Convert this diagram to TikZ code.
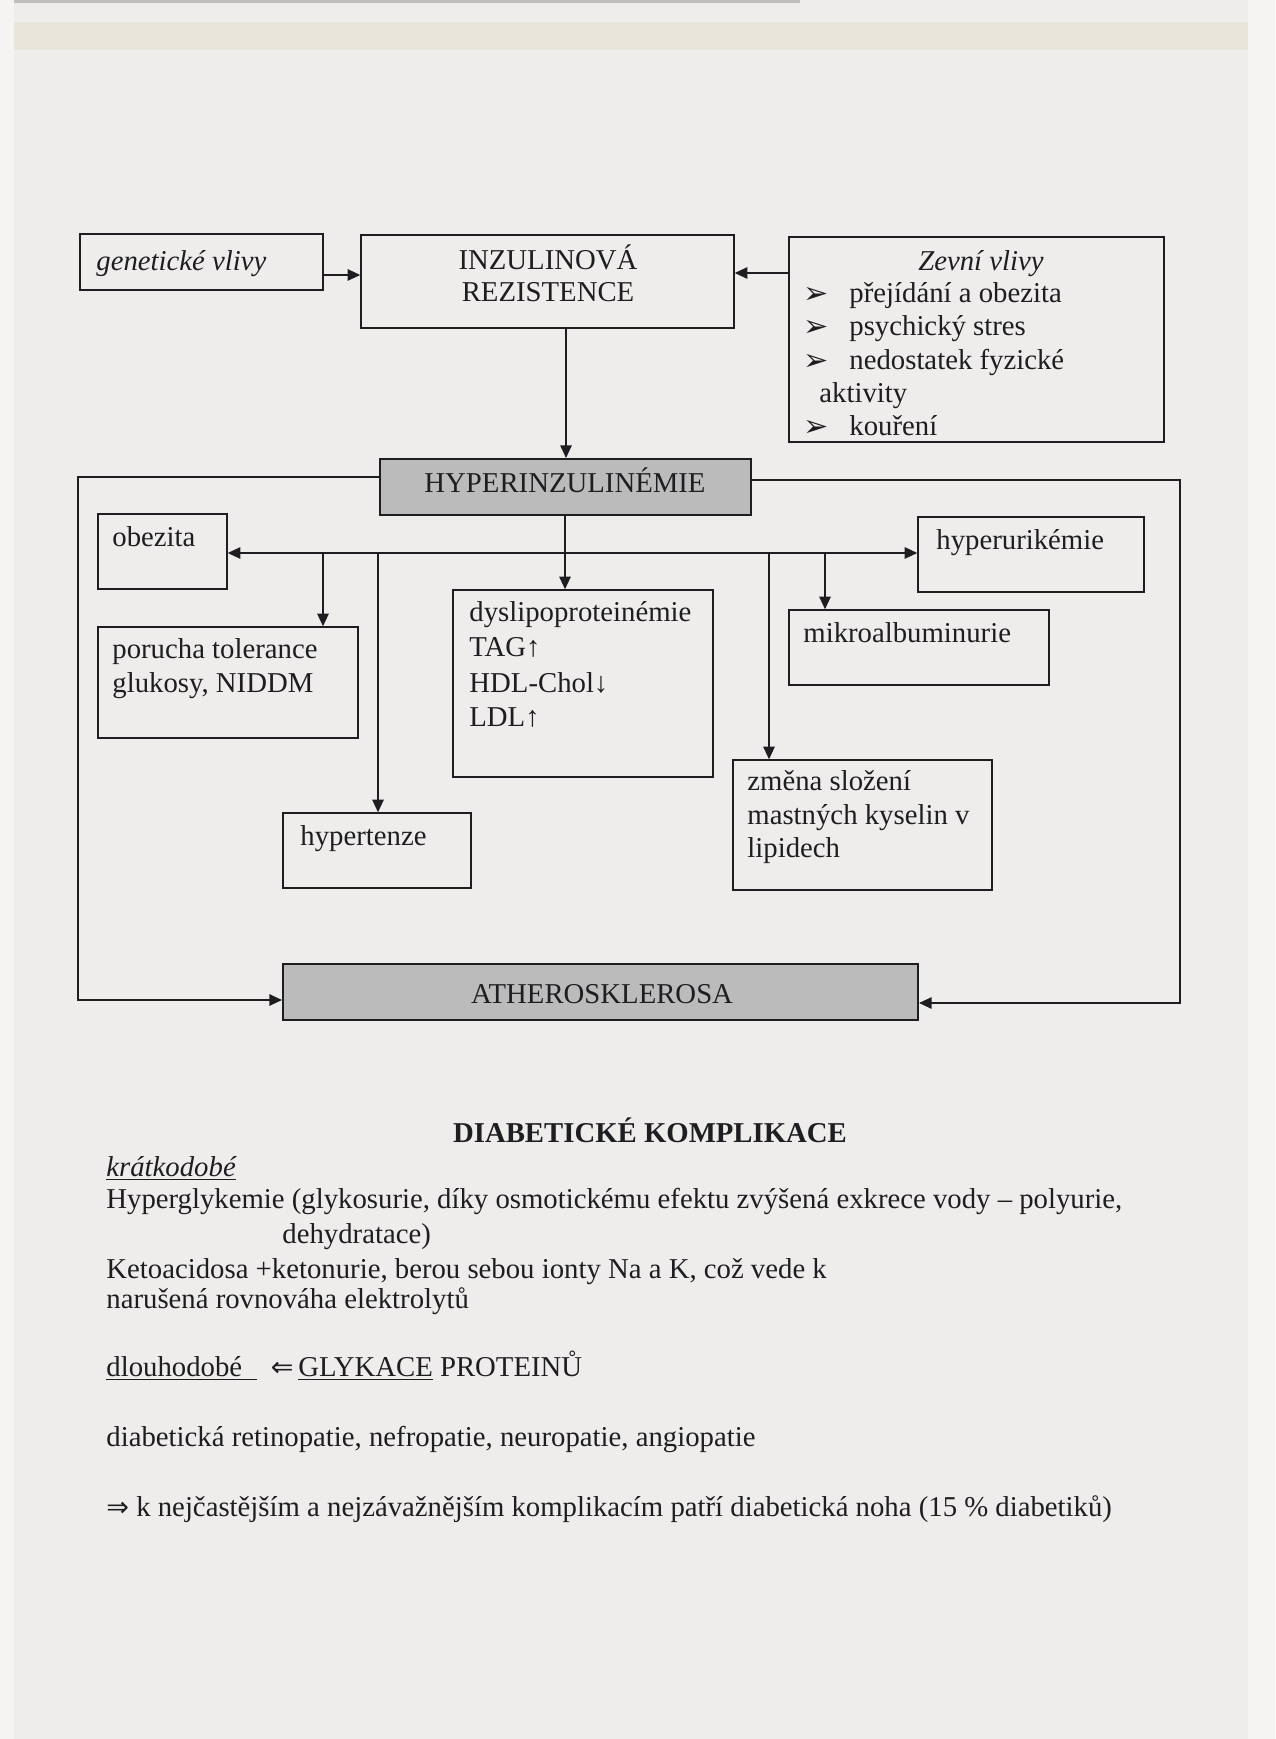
\documentclass[tikz,border=0pt]{standalone}
\usepackage{fontspec}
\setmainfont{Liberation Serif}
\newfontfamily\symf{DejaVu Sans}
\usetikzlibrary{arrows.meta,fit}
\definecolor{paper}{RGB}{239,237,235}
\definecolor{paperedge}{RGB}{245,244,243}
\definecolor{band}{RGB}{234,229,219}
\definecolor{ink}{RGB}{30,30,34}
\definecolor{boxgray}{RGB}{187,187,187}
\begin{document}
\begin{tikzpicture}[x=0.48pt,y=-0.48pt,
  box/.style={draw=ink,line width=0.75pt,inner sep=0pt},
  graybox/.style={draw=ink,line width=1pt,fill=boxgray,inner sep=0pt},
  txt/.style={anchor=base west,inner sep=0pt,text=ink,font=\fontsize{13.8}{16}\selectfont},
  ctxt/.style={anchor=base,inner sep=0pt,text=ink,font=\fontsize{13.8}{16}\selectfont},
  bul/.style={anchor=base west,inner sep=0pt,text=ink,font=\fontsize{14.5}{16}\selectfont\symf},
  conn/.style={draw=ink,line width=0.55pt},
  arr/.style={conn,-{Triangle[length=6pt,width=5.5pt]}},
  darr/.style={conn,{Triangle[length=6pt,width=5.5pt]}-{Triangle[length=6pt,width=5.5pt]}}
]
% page background
\fill[paperedge] (0,0) rectangle (1275,1739);
\fill[paper] (14,0) rectangle (1248,1739);
\fill[band] (14,22) rectangle (1248,50);
\fill[gray!50] (14,0) rectangle (800,3);
\useasboundingbox (0,0) rectangle (1275,1739);

% boxes
\node[box,fit={(80,234) (323,290)}] (gen) {};
\node[box,fit={(361,235) (734,328)}] (inz) {};
\node[box,fit={(789,237) (1164,442)}] (zev) {};
\node[graybox,fit={(380,459) (751,515)}] (hyp) {};
\node[box,fit={(98,514) (227,589)}] (obe) {};
\node[box,fit={(918,517) (1144,592)}] (hur) {};
\node[box,fit={(98,627) (358,738)}] (por) {};
\node[box,fit={(453,590) (713,777)}] (dys) {};
\node[box,fit={(789,610) (1049,685)}] (mik) {};
\node[box,fit={(283,813) (471,888)}] (hyt) {};
\node[box,fit={(733,760) (992,890)}] (zme) {};
\node[graybox,fit={(283,964) (918,1020)}] (ath) {};

% texts in boxes
\node[txt,font=\fontsize{13.8}{16}\selectfont\itshape] (tgen) at (96,271) {genetické vlivy};
\node[ctxt] (tinz1) at (548,270) {INZULINOVÁ};
\node[ctxt] (tinz2) at (548,302) {REZISTENCE};
\node[ctxt,font=\fontsize{13.8}{16}\selectfont\itshape] (tzev) at (981,271) {Zevní vlivy};
\node[bul] (bz1) at (803,304) {➢};
\node[bul] (bz2) at (803,337) {➢};
\node[bul] (bz3) at (803,371) {➢};
\node[bul] (bz4) at (803,437) {➢};
\node[txt] (tz1) at (849,303) {přejídání a obezita};
\node[txt] (tz2) at (849,336) {psychický stres};
\node[txt] (tz3) at (849,370) {nedostatek fyzické};
\node[txt] (tz3b) at (819,403) {aktivity};
\node[txt] (tz4) at (849,436) {kouření};
\node[ctxt] (thyp) at (565,492) {HYPERINZULINÉMIE};
\node[txt] (tobe) at (112,546) {obezita};
\node[txt] (thur) at (936,549) {hyperurikémie};
\node[txt] (tpor1) at (112,658) {porucha tolerance};
\node[txt] (tpor2) at (112,692) {glukosy, NIDDM};
\node[txt] (tdys1) at (469,621) {dyslipoproteinémie};
\node[txt] (tdys2) at (469,656) {TAG↑};
\node[txt] (tdys3) at (469,692) {HDL-Chol↓};
\node[txt] (tdys4) at (469,726) {LDL↑};
\node[txt] (tmik) at (803,642) {mikroalbuminurie};
\node[txt] (thyt) at (300,845) {hypertenze};
\node[txt] (tzme1) at (747,790) {změna složení};
\node[txt] (tzme2) at (747,824) {mastných kyselin v};
\node[txt] (tzme3) at (747,857) {lipidech};
\node[ctxt] (tath) at (602,1003) {ATHEROSKLEROSA};

% connectors top
\draw[arr] (gen.east |- 0,275) -- (inz.west |- 0,275);
\draw[arr] (zev.west |- 0,273) -- (inz.east |- 0,273);
\coordinate (inzdown) at (566,328);
\draw[arr] (inzdown) -- (inzdown |- hyp.north);

% hub line
\coordinate (hub) at (565,553);
\draw[darr] (obe.east |- hub) -- (hur.west |- hub);
\draw[arr] (hyp.south -| hub) -- (hub |- dys.north);
\coordinate (b1) at (323,553);
\coordinate (b2) at (378,553);
\coordinate (b3) at (769,553);
\coordinate (b4) at (825,553);
\draw[arr] (b1) -- (b1 |- por.north);
\draw[arr] (b2) -- (b2 |- hyt.north);
\draw[arr] (b3) -- (b3 |- zme.north);
\draw[arr] (b4) -- (b4 |- mik.north);

% outer frame
\coordinate (fl) at (78,477);
\coordinate (fr) at (1180,480);
\draw[arr] (hyp.west |- fl) -- (fl) -- (fl |- 0,1000) -- (ath.west |- 0,1000);
\draw[arr] (hyp.east |- fr) -- (fr) -- (fr |- 0,1003) -- (ath.east |- 0,1003);

% lower text
\node[ctxt,font=\fontsize{13.8}{16}\selectfont\bfseries] (title) at (650,1142) {DIABETICKÉ KOMPLIKACE};
\node[txt,font=\fontsize{13.8}{16}\selectfont\itshape] (kr) at (106,1176) {\underline{krátkodobé}};
\node[txt] (l1) at (106,1208) {Hyperglykemie (glykosurie, díky osmotickému efektu zvýšená exkrece vody – polyurie,};
\node[txt] (l2) at (282,1243) {dehydratace)};
\node[txt] (l3) at (106,1278) {Ketoacidosa +ketonurie, berou sebou ionty Na a K, což vede k};
\node[txt] (l4) at (106,1308) {narušená rovnováha elektrolytů};
\node[txt] (l5) at (106,1376) {\underline{dlouhodobé\ \ }\ \ {\symf\fontsize{13}{14}\selectfont ⇐}\,\underline{GLYKACE} PROTEINŮ};
\node[txt] (l6) at (106,1446) {diabetická retinopatie, nefropatie, neuropatie, angiopatie};
\node[txt] (l7) at (106,1516) {{\symf\fontsize{13}{14}\selectfont ⇒} k nejčastějším a nejzávažnějším komplikacím patří diabetická noha (15 \% diabetiků)};
\end{tikzpicture}
\end{document}
